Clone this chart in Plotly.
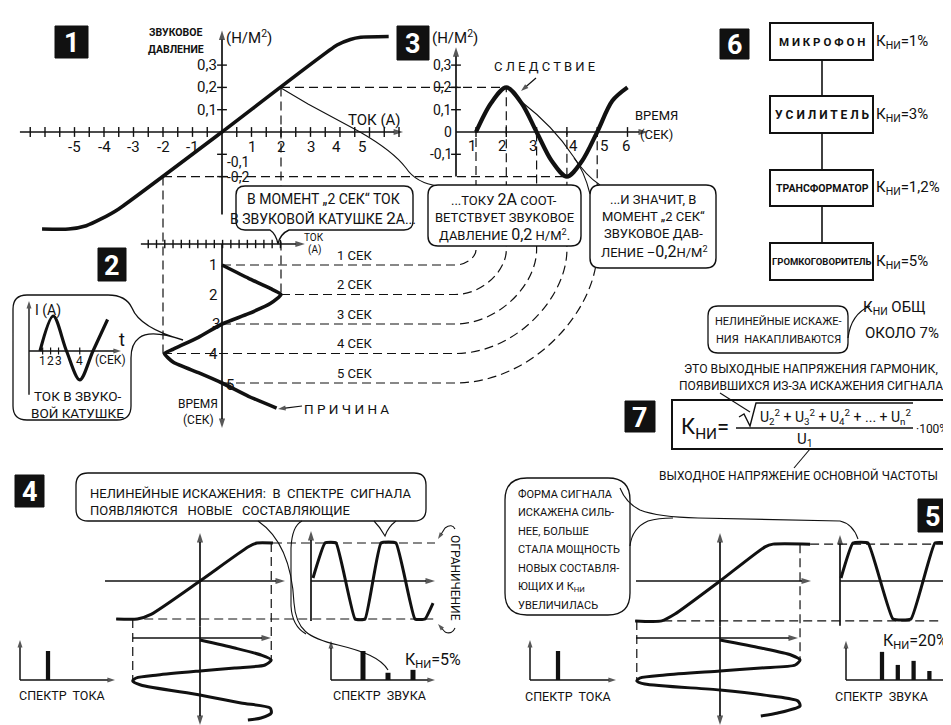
import plotly.graph_objects as go

W, H = 951, 725
INK = "#111111"
FONT = "Roboto, DejaVu Sans"

# ---------------- values ----------------
# 1: loudspeaker characteristic, sound pressure (N/m2) against coil current (A)
p1_current = [-6.1, -5.2, -4.6, -4.1, -3.5, 0.0, 3.9, 4.35, 4.7, 5.65]
p1_pressure = [-0.435, -0.435, -0.42, -0.39, -0.345, 0.0, 0.39, 0.415, 0.425, 0.428]
p1_xticks = [-5, -4, -3, -2, -1, 1, 2, 3, 4, 5]
p1_yticks = [0.3, 0.2, 0.1, -0.1, -0.2]
p1_yticktext = ["0,3", "0,2", "0,1", "-0,1", "-0,2"]

# 2: coil current, time runs downwards
p2_time = [1, 1.45, 1.8, 2, 2.3, 2.65, 3, 3.45, 3.85, 4, 4.3, 4.65, 5, 5.45, 5.85]
p2_current = [0, 0.9, 1.65, 2, 1.65, 0.9, 0, -0.8, -1.65, -1.95, -1.65, -0.8, 0, 0.9, 1.85]
p2_seconds = [1, 2, 3, 4, 5]
p2_current_at_seconds = [0, 2, 0, -2, 0]

# 2, inset: the same current drawn the usual way
inset_time = [1, 2, 3, 4, 5, 6.1]
inset_current = [0, 2, 0, -1.65, 0, 1.8]
inset_tickpos = [1.2, 1.8, 2.4, 4.0]
inset_ticktext = ["1", "2", "3", "4"]

# 3: resulting sound pressure
p3_time = [1, 1.5, 2, 2.5, 3, 3.5, 4, 4.5, 5, 5.5, 6]
p3_pressure = [0, 0.13, 0.2, 0.13, 0, -0.13, -0.2, -0.13, 0, 0.14, 0.2]
p3_xticks = [1, 2, 3, 4, 5, 6]
p3_yticks = [0.3, 0.2, 0.1, 0, -0.1]
p3_yticktext = ["0,3", "0,2", "0,1", "0", "-0,1"]

# 6: the chain and its distortion factors
chain_blocks = ["М И К Р О Ф О Н", "У С И Л И Т Е Л Ь", "ТРАНСФОРМАТОР", "ГРОМКОГОВОРИТЕЛЬ"]
chain_kni = ["1%", "3%", "1,2%", "5%"]

# 4: moderate overload
p4_in = [-1.47, -1.1, -0.85, 0, 0.85, 1.0, 1.28]
p4_out = [-1, -1, -0.87, 0, 0.9, 1, 1]
p4_drive_t = [0, 0.8, 1.5, 2.0, 2.5, 2.8, 3.1, 3.5, 3.8, 4.1, 4.5, 5.5, 6.3, 6.8, 7.3, 7.8, 8.0]
p4_drive_i = [0, 0.61, 1.07, 1.25, 1.14, 0.61, 0, -0.74, -1.12, -1.18, -1.04, 0, 0.72, 1.23, 1.25, 1.07, 0.84]
p4_wave_t = [0, 0.83, 1.59, 2.9, 3.59, 4.69, 5.72, 7.03, 7.72, 8.28]
p4_wave_y = [0.08, 1, 1, -1, -1, 1, 1, -1, -1, -0.58]
p4_spec_current = [1.0]
p4_spec_sound = [1.0, 0.25, 0.35]

# 5: heavy overload
p5_in = [-1.6, -1.1, -0.85, 0, 0.85, 1.0, 1.7]
p5_out = [-1.05, -1.05, -0.87, 0, 0.9, 0.97, 0.97]
p5_drive_t = [0, 0.8, 1.5, 2.0, 2.5, 2.8, 3.1, 3.5, 3.8, 4.1, 4.4, 5.0, 5.6, 6.1, 6.6, 7.3, 7.6]
p5_drive_i = [0, 0.77, 1.34, 1.51, 1.42, 0.77, 0, -1.04, -1.51, -1.57, -1.42, 0, 0.96, 1.47, 1.51, 1.09, 0.77]
p5_wave_t = [0, 1, 2.25, 4.33, 5.83, 7.83, 8.92]
p5_wave_y = [0.08, 1, 1, -1, -1, 1, 1]
p5_spec_current = [1.0]
p5_spec_sound = [0.97, 0.52, 0.66, 0.31, 0.24]

# ---------------- where each little coordinate system sits on the sheet ----------------
# axis id: (pixel of value 0, pixels per unit, direction)
AXES = {
    "x": (214.0, 29.5, "right"),    # current, panels 1 and 2
    "y": (124.0, 223.0, "up"),      # pressure, panels 1 and 3
    "y2": (227.5, 29.5, "down"),    # time, panel 2
    "x2": (437.7, 30.3, "right"),   # time, panel 3
    "x3": (192.0, 57.0, "right"),   # input, panel 4
    "y3": (573.0, 38.0, "up"),      # output, panel 4
    "y4": (632.0, 10.0, "down"),    # drive time, panel 4
    "x4": (305.0, 14.5, "right"),   # output time, panel 4
    "x5": (712.0, 53.0, "right"),   # input, panel 5
    "y5": (573.0, 38.0, "up"),      # output, panel 5
    "y6": (632.0, 10.0, "down"),    # drive time, panel 5
    "x6": (833.0, 12.0, "right"),   # output time, panel 5
    "x7": (18.75, 13.25, "right"),  # inset time
    "y7": (343.0, 17.5, "up"),      # inset current
    "x8": (15.0, 25.0, "right"),    # spectra
    "x9": (330.0, 25.0, "right"),
    "x10": (525.0, 25.0, "right"),
    "x11": (858.2, 15.8, "right"),
    "y8": (672.0, 29.0, "up"),
    "x12": (0.0, 1.0, "right"),     # plain sheet pixels for the drawing round the graphs
    "y9": (0.0, 1.0, "down"),
}


def px(ax, v):
    o, s, d = AXES[ax]
    return o - s * v if d == "up" else o + s * v


def val(ax, p):
    o, s, d = AXES[ax]
    return (o - p) / s if d == "up" else (p - o) / s


def axis_range(ax):
    o, s, d = AXES[ax]
    if d == "right":
        return [-o / s, (W - o) / s]
    if d == "up":
        return [-(H - o) / s, o / s]
    return [(H - o) / s, -o / s]


fig = go.Figure()
shapes = []
anns = []


def curve(x, y, xa, ya, width=3.5, smooth=0.6):
    fig.add_trace(go.Scatter(x=x, y=y, xaxis=xa, yaxis=ya, mode="lines",
                             line=dict(color=INK, width=width, shape="spline", smoothing=smooth),
                             hoverinfo="skip", showlegend=False))


def tick_marks(xs, ys, xa, ya, symbol, size=7, width=1.4):
    fig.add_trace(go.Scatter(x=xs, y=ys, xaxis=xa, yaxis=ya, mode="markers",
                             marker=dict(symbol=symbol, size=size, color=INK,
                                         line=dict(color=INK, width=width)),
                             hoverinfo="skip", showlegend=False))


def spectrum(values, xa, bar_w):
    fig.add_trace(go.Bar(x=list(range(1, len(values) + 1)), y=values, xaxis=xa, yaxis="y8",
                         width=bar_w, marker=dict(color=INK, line=dict(width=0)),
                         hoverinfo="skip", showlegend=False))


def arrow(xa, ya, x0, y0, x1, y1, width=1.7, size=10):
    # a line with an arrow head at its second end
    fig.add_trace(go.Scatter(x=[x0, x1], y=[y0, y1], xaxis=xa, yaxis=ya, mode="lines+markers",
                             line=dict(color=INK, width=width),
                             marker=dict(symbol="arrow", size=[0, size], angleref="previous",
                                         color=INK, line=dict(width=0)),
                             hoverinfo="skip", showlegend=False))


def line(x0, y0, x1, y1, xa="x12", ya="y9", width=1.2, dash=None):
    shapes.append(dict(type="line", xref=xa, yref=ya, x0=x0, y0=y0, x1=x1, y1=y1,
                       line=dict(color=INK, width=width, dash=dash)))


def path(d, width=1.3, fill=None, dash=None):
    shapes.append(dict(type="path", xref="x12", yref="y9", path=d,
                       fillcolor=fill if fill else "rgba(0,0,0,0)",
                       line=dict(color=INK, width=width, dash=dash)))


def rrect(x0, y0, x1, y1, r):
    return (f"M{x0 + r},{y0} L{x1 - r},{y0} Q{x1},{y0} {x1},{y0 + r} L{x1},{y1 - r} "
            f"Q{x1},{y1} {x1 - r},{y1} L{x0 + r},{y1} Q{x0},{y1} {x0},{y1 - r} "
            f"L{x0},{y0 + r} Q{x0},{y0} {x0 + r},{y0} Z")


def text(x, y, t, size=13, xa="x12", ya="y9", anchor="center", color=INK, **kw):
    anns.append(dict(x=x, y=y, xref=xa, yref=ya, text=t, showarrow=False, xanchor=anchor,
                     font=dict(family=FONT, size=size, color=color), **kw))


def number_box(x0, y0, x1, y1, n):
    shapes.append(dict(type="rect", xref="x12", yref="y9", x0=x0, y0=y0, x1=x1, y1=y1,
                       fillcolor=INK, line=dict(color=INK, width=1)))
    text((x0 + x1) / 2, (y0 + y1) / 2 + 1, f"<b>{n}</b>", size=27, color="white")


DASH = "9px,5px"

# ================= panels 1-3: dashed connections =================
X1 = lambda v: px("x", v)
YP = lambda v: px("y", v)
T2 = lambda t: px("y2", t)
X3 = lambda t: px("x2", t)

line(X1(2), YP(0.2), X3(2), YP(0.2), dash=DASH)
line(X1(-2), YP(-0.2), X3(4), YP(-0.2), dash=DASH)
line(X1(2), YP(0.2), X1(2), T2(2), dash=DASH)
line(X1(-2), YP(-0.2), X1(-2), T2(4), dash=DASH)
BEND_X, BEND_Y = 447, 242
for t, i in zip(p2_seconds, p2_current_at_seconds):
    y = T2(t)
    xt = X3(t)
    top = min(YP(0), YP(p3_pressure[p3_time.index(t)]))
    path(f"M{X1(i)},{y} L{BEND_X},{y} C{BEND_X + 0.55 * (xt - BEND_X)},{y} "
         f"{xt},{BEND_Y + 0.45 * (y - BEND_Y)} {xt},{BEND_Y} L{xt},{top}", width=1.2, dash=DASH)

# ================= panel 1 =================
number_box(47, 18, 80, 50, 1)
arrow("x", "y", -6.85, 0, 6.14, 0)
arrow("x", "y", 0, -0.37, 0, 0.455)
tick_marks([k / 2 for k in range(-13, 13) if k != 0], [0] * 25, "x", "y", "line-ns", size=7)
tick_marks([0] * len(p1_yticks), p1_yticks, "x", "y", "line-ew", size=7)
curve(p1_current, p1_pressure, "x", "y", width=3.6, smooth=0.5)
for v in p1_xticks:
    text(v, 0, str(v), size=15, xa="x", ya="y", yshift=-15, xshift={4: -4, 5: -8}.get(v, 0))
for v, t in zip(p1_yticks, p1_yticktext):
    if v > 0:
        text(0, v, t, size=15, xa="x", ya="y", anchor="right", xshift=-3)
    else:
        text(0, v, t, size=14, xa="x", ya="y", anchor="left", xshift=3,
             yshift=-8 if v > -0.15 else 0)
text(168, 24, "<b>ЗВУКОВОЕ</b>", size=10.5)
text(168, 41, "<b>ДАВЛЕНИЕ</b>", size=10.5)
text(241, 29, "(Н/М<sup>2</sup>)", size=15)
text(366, 112, "ТОК (А)", size=15)
# thin leader from the point (2 A, 0,2) to the second balloon
path("M273,80 L300,96 L352,124 Q385,143 398,160 Q408,175 430,178", width=1.1)

# ================= panel 3 =================
number_box(389, 18, 421, 52, 3)
P3_YAX = val("x2", 448)
arrow("x2", "y", P3_YAX, 0, val("x2", 640), 0)
arrow("x2", "y", P3_YAX, -0.2, P3_YAX, 0.38)
tick_marks(p3_xticks, [0] * len(p3_xticks), "x2", "y", "line-ns", size=7)
tick_marks([P3_YAX] * 4, [0.3, 0.2, 0.1, -0.1], "x2", "y", "line-ew", size=7)
curve(p3_time, p3_pressure, "x2", "y", width=4.2, smooth=0.9)
for v in p3_xticks:
    text(v, 0, str(v), size=15, xa="x2", ya="y", yshift=-14, xshift={4: 7, 5: 7, 6: -2}.get(v, -4))
for v, t in zip(p3_yticks, p3_yticktext):
    text(P3_YAX, v, t, size=14, xa="x2", ya="y", anchor="right", xshift=-2)
text(447, 29, "(Н/М<sup>2</sup>)", size=15)
text(536, 58, "С Л Е Д С Т В И Е", size=13)
arrow("x12", "y9", 528, 70, 513, 83, width=1.2, size=8)
text(648, 107, "ВРЕМЯ", size=13)
text(648, 126, "(СЕК)", size=13)

# ================= panel 2 =================
number_box(90, 240, 118, 273, 2)
TOK_T = val("y2", 236)
arrow("x", "y2", -2.75, TOK_T, 2.81, TOK_T)
arrow("x", "y2", 0, TOK_T, 0, val("y2", 420))
tick_marks([-2.5 + 0.28 * k for k in range(17)], [TOK_T] * 17, "x", "y2", "line-ns", size=6)
curve(p2_current, p2_time, "x", "y2", width=3.6, smooth=0.5)
for t in p2_seconds:
    shift = {3: -6, 5: 8}.get(t, -9)
    text(0, t, str(t), size=15, xa="x", ya="y2", xshift=shift, yshift=-2 if t == 5 else 0)
    text(346, T2(t) - 10, f"{t} СЕК", size=13)
text(306, 229, "ТОК", size=10)
text(306, 242, "(А)", size=10)
text(190, 396, "ВРЕМЯ", size=12)
text(190, 412, "(СЕК)", size=12)
text(338, 401, "П Р И Ч И Н А", size=13.5)
arrow("x12", "y9", 294, 398, 270, 401, width=1.2, size=8)

# inset
path("M19,287 L100,287 Q118,287 124,300 Q132,320 175,332 Q142,321 131,330 Q123,336 123,350 "
     "L123,398 Q123,412 109,412 L19,412 Q5,412 5,398 L5,301 Q5,287 19,287 Z", width=1.3)
IN_T = val("x7", 21)
arrow("x7", "y7", IN_T, -2.5, IN_T, 2.86, width=1.4, size=8)
arrow("x7", "y7", IN_T, 0, val("x7", 113), 0, width=1.4, size=8)
tick_marks(inset_tickpos, [0] * 4, "x7", "y7", "line-ns", size=5, width=1.2)
curve(inset_time, inset_current, "x7", "y7", width=3.2, smooth=0.9)
for p, t in zip(inset_tickpos, inset_ticktext):
    text(p, 0, t, size=12, xa="x7", ya="y7", yshift=-10)
text(40, 302, "I (A)", size=14)
text(114, 331, "t", size=18)
text(102, 352, "(СЕК)", size=12)
text(70, 388, "ТОК В ЗВУКО-", size=13.5)
text(69, 405, "ВОЙ КАТУШКЕ", size=13.5)

# ================= balloons between panels 1, 2 and 3 =================
path("M237,178 L396,178 Q405,178 405,187 L405,213 Q405,222 396,222 L281,222 Q272,226 270,236 "
     "Q268,226 262,222 L237,222 Q228,222 228,213 L228,187 Q228,178 237,178 Z", width=1.4, fill="white")
text(315, 191, "В МОМЕНТ „2 СЕК“ ТОК", size=14)
text(315, 210, "В ЗВУКОВОЙ КАТУШКЕ <span style='font-size:17px'>2</span>А...", size=14)

path(rrect(420, 177, 573, 238, 10), width=1.4, fill="white")
text(496, 191, "...ТОКУ <span style='font-size:16px'>2А</span> СООТ-", size=13)
text(496, 209, "ВЕТСТВУЕТ ЗВУКОВОЕ", size=13)
text(496, 226, "ДАВЛЕНИЕ <span style='font-size:16px'>0,2</span> Н/М<sup>2</sup>.", size=13)

path("M515,95 Q545,118 565,148 Q578,168 592,177", width=1.1)
path("M566,150 Q576,162 582,186", width=1.1)
path(rrect(582, 177, 708, 260, 10), width=1.4, fill="white")
text(645, 191, "...И ЗНАЧИТ, В", size=13)
text(645, 208, "МОМЕНТ „2 СЕК“", size=13)
text(645, 225, "ЗВУКОВОЕ ДАВ-", size=13)
text(646, 243, "ЛЕНИЕ –<span style='font-size:16px'>0,2</span>Н/М<sup>2</sup>", size=13)

# ================= panel 6 =================
number_box(712, 21, 741, 51, 6)
box_y = [(15, 52), (88, 125), (162, 198), (235, 272)]
block_size = [11.5, 12, 10.5, 9.5]
for (y0, y1), name, k, fs in zip(box_y, chain_blocks, chain_kni, block_size):
    shapes.append(dict(type="rect", xref="x12", yref="y9", x0=762, y0=y0, x1=865, y1=y1,
                       line=dict(color=INK, width=2)))
    text(814, (y0 + y1) / 2, f"<b>{name}</b>", size=fs)
    text(866, (y0 + y1) / 2, f"К<sub>НИ</sub>={k}", size=15, anchor="left")
for (a, b), (c, d) in zip(box_y[:-1], box_y[1:]):
    line(814, b, 814, c, width=1.6)

# ================= panel 7 =================
path(rrect(700, 298, 840, 345, 10), width=1.3)
path("M840,330 Q843,306 862,298", width=1.2)
text(770, 313, "НЕЛИНЕЙНЫЕ ИСКАЖЕ-", size=11)
text(770, 331, "НИЯ  НАКАПЛИВАЮТСЯ", size=11)
text(886, 300, "К<sub>НИ</sub> ОБЩ", size=15)
text(894, 325, "ОКОЛО 7%", size=15)
text(803, 361, "ЭТО ВЫХОДНЫЕ НАПРЯЖЕНИЯ ГАРМОНИК,", size=12.2)
text(803, 378, "ПОЯВИВШИХСЯ ИЗ-ЗА ИСКАЖЕНИЯ СИГНАЛА", size=12)
number_box(617, 393, 647, 424, 7)
shapes.append(dict(type="rect", xref="x12", yref="y9", x0=664, y0=392, x1=944, y1=441,
                   line=dict(color=INK, width=2)))
text(697, 420, "К<sub>НИ</sub>=", size=22)
path("M731,409 L736,406 L742,418 L748,395 L905,395", width=1.4)
text(827, 409, "U<sub>2</sub><sup>2</sup> + U<sub>3</sub><sup>2</sup> + U<sub>4</sub><sup>2</sup>"
               " + ... + U<sub>n</sub><sup>2</sup>", size=14)
line(728, 420, 905, 420, width=1.4)
text(797, 432, "U<sub>1</sub>", size=15)
text(924, 421, "·100%", size=12)
path("M712,385 L742,404", width=1.1)
path("M802,441 L786,460", width=1.1)
text(790, 467, "ВЫХОДНОЕ НАПРЯЖЕНИЕ ОСНОВНОЙ ЧАСТОТЫ", size=12)

# ================= panel 4 =================
number_box(7, 467, 36, 499, 4)
path(rrect(68, 465, 418, 513, 12), width=1.3)
text(80, 485, "НЕЛИНЕЙНЫЕ ИСКАЖЕНИЯ:  В  СПЕКТРЕ  СИГНАЛА", size=13, anchor="left")
text(80, 502, "ПОЯВЛЯЮТСЯ   НОВЫЕ   СОСТАВЛЯЮЩИЕ", size=13, anchor="left")
path("M250,513 C272,528 284,555 286,595 C288,622 300,630 330,637 C355,643 373,650 380,662", width=1.1)
path("M294,513 Q284,518 283,540 L283,598 Q284,618 298,626", width=1.1)
path("M366,513 Q372,519 377,528 Q380,519 388,513", width=1.1)

x_end4 = val("x3", 427)
i_hi4 = p4_drive_i.index(max(p4_drive_i))
i_lo4 = p4_drive_i.index(min(p4_drive_i))
line(p4_in[-1], 1, x_end4, 1, xa="x3", ya="y3", width=1.2, dash=DASH)
line(p4_in[0], -1, x_end4, -1, xa="x3", ya="y3", width=1.2, dash=DASH)
line(p4_drive_i[i_hi4], 1, p4_drive_i[i_hi4], val("y3", px("y4", p4_drive_t[i_hi4])),
     xa="x3", ya="y3", width=1.2, dash=DASH)
line(p4_drive_i[i_lo4], -1, p4_drive_i[i_lo4], val("y3", px("y4", p4_drive_t[i_lo4])),
     xa="x3", ya="y3", width=1.2, dash=DASH)
arrow("x3", "y3", val("x3", 97), 0, val("x3", 277), 0)
arrow("x3", "y3", 0, -1.2, 0, val("y3", 525))
arrow("x3", "y3", 0, -1.2, 0, val("y3", 717))
arrow("x3", "y4", p4_drive_i[i_lo4], val("y4", 630), val("x3", 263), val("y4", 630))
curve(p4_in, p4_out, "x3", "y3", width=3, smooth=0.6)
curve(p4_drive_i, p4_drive_t, "x3", "y4", width=3, smooth=0.7)
OUT4 = val("x4", 303)
arrow("x4", "y3", OUT4, -1.05, OUT4, val("y3", 523))
arrow("x4", "y3", OUT4, 0, val("x4", 427), 0)
curve(p4_wave_t, p4_wave_y, "x4", "y3", width=3, smooth=0.35)
text(447, 570, "ОГРАНИЧЕНИЕ", size=12, textangle=90)
path("M447,521 Q444,515 437,520", width=1.1)
arrow("x12", "y9", 437, 520, 430, 531, width=1.1, size=7)
path("M447,620 Q444,627 437,624", width=1.1)
arrow("x12", "y9", 437, 624, 430, 616, width=1.1, size=7)

arrow("x8", "y8", val("x8", 12), 0, val("x8", 12), 1.38, width=1.5, size=8)
arrow("x8", "y8", val("x8", 12), 0, val("x8", 107), 0, width=1.5, size=8)
spectrum(p4_spec_current, "x8", 0.17)
arrow("x9", "y8", val("x9", 323), 0, val("x9", 323), 1.35, width=1.5, size=8)
arrow("x9", "y8", val("x9", 323), 0, val("x9", 427), 0, width=1.5, size=8)
spectrum(p4_spec_sound, "x9", 0.2)
text(54, 687, "СПЕКТР  ТОКА", size=12.5)
text(371, 687, "СПЕКТР  ЗВУКА", size=12.5)
text(425, 652, "К<sub>НИ</sub>=5%", size=16)

# ================= panel 5 =================
number_box(910, 491, 940, 524, 5)
path(rrect(497, 470, 622, 607, 22), width=1.3)
path("M612,480 Q618,495 632,502 Q650,509 690,510 L832,513 Q845,516 850,531", width=1.1)
path("M622,538 Q624,520 640,513 Q650,510 665,510", width=1.1)
for k, t in enumerate(["ФОРМА СИГНАЛА", "ИСКАЖЕНА СИЛЬ-", "НЕЕ, БОЛЬШЕ", "СТАЛА МОЩНОСТЬ",
                       "НОВЫХ СОСТАВЛЯ-", "ЮЩИХ И К<sub>НИ</sub>", "УВЕЛИЧИЛАСЬ"]):
    text(508, 486 + 18.5 * k, t, size=11, anchor="left")

x_end5 = val("x5", 948)
i_hi5 = p5_drive_i.index(max(p5_drive_i))
i_lo5 = p5_drive_i.index(min(p5_drive_i))
line(p5_in[-1], p5_out[-1], x_end5, p5_out[-1], xa="x5", ya="y5", width=1.2, dash=DASH)
line(p5_in[0], p5_out[0], x_end5, p5_out[0], xa="x5", ya="y5", width=1.2, dash=DASH)
line(p5_drive_i[i_hi5], p5_out[-1], p5_drive_i[i_hi5], val("y5", px("y6", p5_drive_t[i_hi5])),
     xa="x5", ya="y5", width=1.2, dash=DASH)
line(p5_drive_i[i_lo5], p5_out[0], p5_drive_i[i_lo5], val("y5", px("y6", p5_drive_t[i_lo5])),
     xa="x5", ya="y5", width=1.2, dash=DASH)
arrow("x5", "y5", val("x5", 628), 0, val("x5", 803), 0)
arrow("x5", "y5", 0, -1.2, 0, val("y5", 525))
arrow("x5", "y5", 0, -1.2, 0, val("y5", 717))
arrow("x5", "y6", val("x5", 628), val("y6", 630), val("x5", 790), val("y6", 630))
curve(p5_in, p5_out, "x5", "y5", width=3, smooth=0.6)
curve(p5_drive_i, p5_drive_t, "x5", "y6", width=3, smooth=0.7)
OUT5 = val("x6", 832)
arrow("x6", "y5", OUT5, -1.18, OUT5, val("y5", 527))
arrow("x6", "y5", OUT5, 0, val("x6", 948), 0)
curve(p5_wave_t, p5_wave_y, "x6", "y5", width=3, smooth=0.35)

arrow("x10", "y8", val("x10", 522), 0, val("x10", 522), 1.38, width=1.5, size=8)
arrow("x10", "y8", val("x10", 522), 0, val("x10", 608), 0, width=1.5, size=8)
spectrum(p5_spec_current, "x10", 0.17)
arrow("x11", "y8", val("x11", 838), 0, val("x11", 838), 1.35, width=1.5, size=8)
arrow("x11", "y8", val("x11", 838), 0, val("x11", 943), 0, width=1.5, size=8)
spectrum(p5_spec_sound, "x11", 0.27)
text(560, 688, "СПЕКТР  ТОКА", size=12.5)
text(873, 688, "СПЕКТР  ЗВУКА", size=12.5)
text(907, 633, "К<sub>НИ</sub>=20%", size=16)

# ================= layout =================
layout = dict(width=W, height=H, margin=dict(l=0, r=0, t=0, b=0),
              paper_bgcolor="white", plot_bgcolor="rgba(0,0,0,0)", showlegend=False,
              shapes=shapes, annotations=anns, barmode="overlay",
              font=dict(family=FONT, color=INK))
for ax in AXES:
    name = ("xaxis" if ax[0] == "x" else "yaxis") + ax[1:]
    cfg = dict(range=axis_range(ax), visible=False, fixedrange=True, domain=[0, 1])
    if ax not in ("x", "y"):
        cfg["overlaying"] = ax[0]
    layout[name] = cfg
fig.update_layout(**layout)
fig.write_html("out.html")
